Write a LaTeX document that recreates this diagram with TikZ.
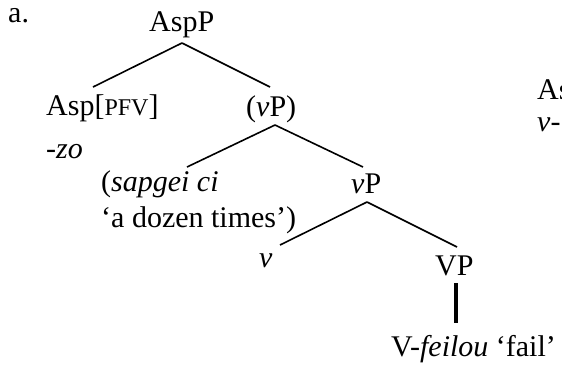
\documentclass[tikz,border=0pt]{standalone}
\usepackage{fontspec}
\setmainfont{Liberation Serif}

\tikzset{
  lbl/.style={anchor=base west, inner sep=0pt, font=\fontsize{30}{35}\selectfont},
  branch/.style={line width=1.6pt},
  stem/.style={line width=3.2pt}
}
\newcommand{\smcap}[1]{{\fontsize{24}{28}\selectfont #1}}

\begin{document}
\begin{tikzpicture}[x=1pt,y=-1pt]
            \useasboundingbox (0,0) rectangle (562,365);
            \clip (0,0) rectangle (562,365);

            % labels
            \node[lbl] (ex) at (8,22) {a.};
            \node[lbl] (aspp) at (149,31) {AspP};
            \node[lbl] (asp) at (46,115) {Asp[\smcap{PFV}]};
            \node[lbl] (zo) at (46,158) {\textit{-zo}};
            \node[lbl] (vpopt) at (246,116) {(\textit{v}P)};
            \node[lbl] (adv) at (101,191) {(\textit{sapgei ci}};
            \node[lbl] (gloss) at (101,227) {‘a dozen times’)};
            \node[lbl] (vp) at (351,193) {\textit{v}P};
            \node[lbl] (v) at (259,267) {\textit{v}};
            \node[lbl] (VP) at (435,275) {VP};
            \node[lbl] (verb) at (391,356) {V-\textit{feilou} ‘fail’};
            \node[lbl] (asp2) at (537,99) {Asp};
            \node[lbl] (v2) at (537,131) {\textit{v}-};

            % branches
            \draw[branch] ([shift={(33,12)}]aspp.base west) -- ([shift={(47,-28)}]asp.base west);
            \draw[branch] ([shift={(33,12)}]aspp.base west) -- ([shift={(24,-29)}]vpopt.base west);
            \draw[branch] ([shift={(29,9)}]vpopt.base west) -- ([shift={(86,-24)}]adv.base west);
            \draw[branch] ([shift={(29,9)}]vpopt.base west) -- ([shift={(12,-26)}]vp.base west);
            \draw[branch] ([shift={(16,9)}]vp.base west) -- ([shift={(21,-22)}]v.base west);
            \draw[branch] ([shift={(16,9)}]vp.base west) -- ([shift={(22,-28)}]VP.base west);
            \draw[stem] ([shift={(21,8)}]VP.base west) -- ([shift={(65,-33)}]verb.base west);
\end{tikzpicture}
\end{document}
